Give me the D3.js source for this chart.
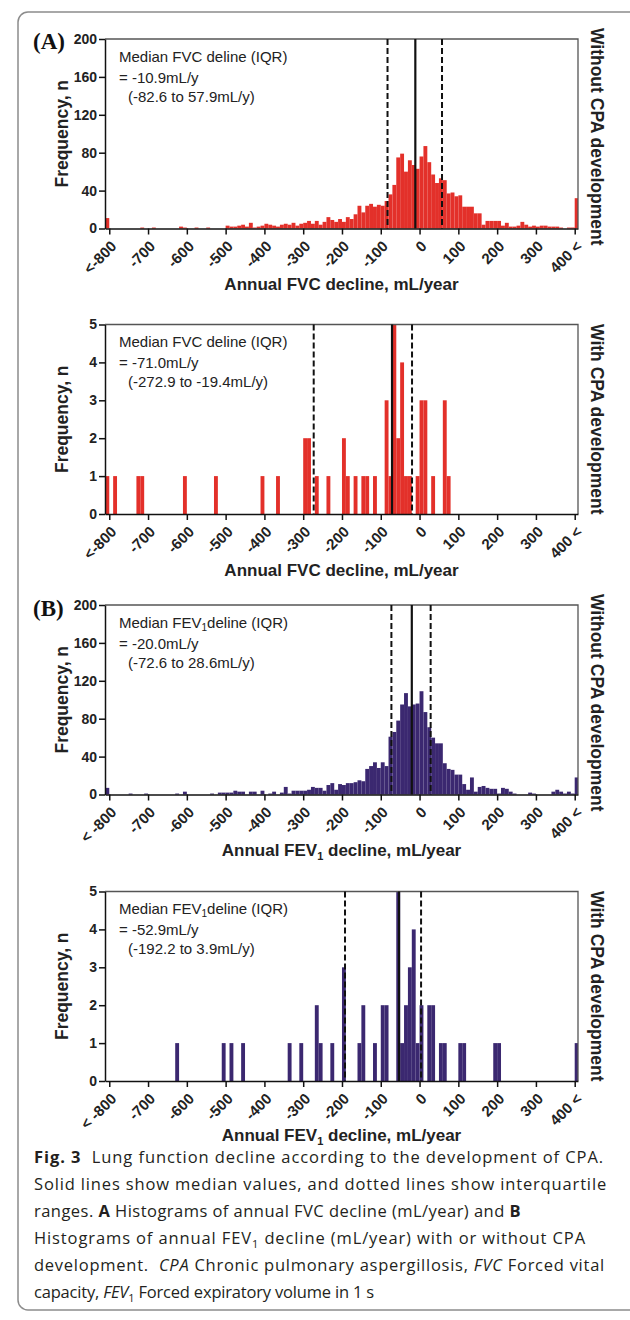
<!DOCTYPE html>
<html><head><meta charset="utf-8">
<script src="https://cdn.jsdelivr.net/npm/d3@7"></script>
<style>body{margin:0;background:#fff}svg{display:block}</style>
</head><body><div id="chart"></div>
<script>
// ---------- DATA ----------
// histogram bins: 10 mL/year wide, left edges -800 ... 390
const binStarts = d3.range(-800, 400, 10);

// (A) FVC decline, without CPA development
const fvcWithout = [
  0,0,0,0,0,0,0,0,1,0,
  0,1,0,0,0,0,0,0,2,1,
  0,0,1,0,0,1,0,0,0,0,
  3,2,2,3,4,2,6,1,2,3,
  5,4,3,2,4,5,4,6,3,5,
  6,8,5,8,4,7,12,9,7,10,
  7,12,10,15,24,17,24,26,23,25,
  24,29,36,46,75,79,60,72,67,63,
  76,87,70,57,48,53,51,37,38,34,
  35,23,23,23,16,16,4,8,8,8,
  8,3,6,2,2,3,7,4,2,3,
  2,3,3,2,2,2,1,0,1,1
];
// (A) FVC decline, with CPA development
const fvcWith = [
  0,1,0,0,0,0,0,1,1,0,
  0,0,0,0,0,0,0,0,0,1,
  0,0,0,0,0,0,0,1,0,0,
  0,0,0,0,0,0,0,0,0,1,
  0,0,0,1,0,0,0,0,0,0,
  2,2,0,1,0,0,1,0,0,0,
  2,1,0,1,0,1,1,0,1,0,
  0,3,1,5,2,4,1,1,0,1,
  3,3,0,1,0,0,3,1,0,0,
  0,0,0,0,0,0,0,0,0,0,
  0,0,0,0,0,0,0,0,0,0,
  0,0,0,0,0,0,0,0,0,0
];
// (B) FEV1 decline, without CPA development
const fev1Without = [
  0,0,0,0,0,1,0,0,0,1,
  0,0,0,0,0,0,0,1,0,3,
  0,0,0,0,0,0,1,0,2,2,
  2,2,4,3,3,0,3,3,0,4,
  0,1,3,0,2,8,1,4,4,4,
  4,5,8,7,7,4,10,12,5,11,
  10,12,12,13,15,14,27,30,34,28,
  34,30,61,66,78,95,107,93,95,96,
  109,87,71,60,54,54,33,27,26,21,
  21,11,5,18,3,8,9,7,6,6,
  1,7,6,3,1,0,0,0,2,1,
  0,0,0,0,3,5,3,1,3,1
];
// (B) FEV1 decline, with CPA development
const fev1With = [
  0,0,0,0,0,0,0,0,0,0,
  0,0,0,0,0,0,0,1,0,0,
  0,0,0,0,0,0,0,0,0,1,
  0,1,0,0,1,0,0,0,0,0,
  0,0,0,0,0,0,1,0,0,1,
  0,0,0,2,1,0,0,1,0,0,
  3,0,0,0,1,2,0,0,1,0,
  2,2,0,0,5,1,2,3,4,1,
  2,0,2,2,0,1,1,0,0,0,
  1,1,0,0,0,0,0,0,0,1,
  1,0,0,0,0,0,0,0,0,0,
  0,0,0,0,0,0,0,0,0,0
];
// counts below -800 and above 400 (panel order: FVC w/o, FVC with, FEV1 w/o, FEV1 with)
const underflowCounts = [11, 1, 7, 0];
const overflowCounts  = [32, 0, 18, 1];

const medians = [-10.9, -71.0, -20.0, -52.9];
const q1s     = [-82.6, -272.9, -72.6, -192.2];
const q3s     = [57.9, -19.4, 28.6, 3.9];

const xTickValues = [-800,-700,-600,-500,-400,-300,-200,-100,0,100,200,300,400];
const xTickLabelsA = ["<-800","-700","-600","-500","-400","-300","-200","-100","0","100","200","300","400 <"];
const xTickLabelsB = ["< -800","-700","-600","-500","-400","-300","-200","-100","0","100","200","300","400 <"];
const yTicksWithout = [0,40,80,120,160,200];
const yTicksWith    = [0,1,2,3,4,5];
const groupLabels = ["Without CPA development","With CPA development","Without CPA development","With CPA development"];

// ---------- DRAW ----------
const W = 630, H = 1320;
const svg = d3.select("#chart").append("svg").attr("width", W).attr("height", H);
const SANS = "'Liberation Sans', Arial, sans-serif";

svg.append("rect").attr("x",18).attr("y",12).attr("width",720).attr("height",1298)
  .attr("rx",10).attr("fill","none").attr("stroke","#8c8c8c").attr("stroke-width",1.5);

const plotLeft = 105, plotRight = 578, plotH = 189.5;
const x = d3.scaleLinear().domain([-811, 408.5]).range([plotLeft, plotRight]);

const panels = [
  {counts: fvcWithout, yMax:200, yTicks:yTicksWithout, color:"#e3302a", top:39, measure:"FVC", labels:xTickLabelsA},
  {counts: fvcWith, yMax:5, yTicks:yTicksWith, color:"#e3302a", top:324.5, measure:"FVC", labels:xTickLabelsA},
  {counts: fev1Without, yMax:200, yTicks:yTicksWithout, color:"#3b2870", top:605, measure:"FEV", labels:xTickLabelsB},
  {counts: fev1With, yMax:5, yTicks:yTicksWith, color:"#3b2870", top:891.5, measure:"FEV", labels:xTickLabelsB}
];

panels.forEach((p, k) => {
  const bottom = p.top + plotH;
  const y = d3.scaleLinear().domain([0, p.yMax]).range([bottom, p.top]);
  const g = svg.append("g");

  // bars
  const bars = binStarts.map((b,i) => ({x0:b, x1:b+10, n:p.counts[i]}));
  bars.push({x0:-811, x1:-800, n:underflowCounts[k]});
  bars.push({x0:400, x1:408.5, n:overflowCounts[k]});
  g.selectAll("rect.bar").data(bars.filter(d => d.n > 0)).join("rect")
    .attr("class","bar")
    .attr("x", d => x(d.x0)).attr("width", d => x(d.x1) - x(d.x0))
    .attr("y", d => y(d.n)).attr("height", d => y(0) - y(d.n))
    .attr("fill", p.color);

  // frame (top/right)
  g.append("path").attr("d", `M${plotLeft},${p.top}H${plotRight}V${bottom}`)
    .attr("fill","none").attr("stroke","#555").attr("stroke-width",1.3);

  // median & IQR lines
  [q1s[k], q3s[k]].forEach(v => {
    g.append("line").attr("x1", x(v)).attr("x2", x(v)).attr("y1", p.top).attr("y2", bottom)
      .attr("stroke","#111").attr("stroke-width",2).attr("stroke-dasharray","6,3");
  });
  g.append("line").attr("x1", x(medians[k])).attr("x2", x(medians[k])).attr("y1", p.top).attr("y2", bottom)
    .attr("stroke","#111").attr("stroke-width",2.2);

  // y axis
  const ya = g.append("g").attr("transform", `translate(${plotLeft},0)`)
    .call(d3.axisLeft(y).tickValues(p.yTicks).tickFormat(d3.format("d"))
      .tickSize(6).tickSizeOuter(0).tickPadding(2));
  ya.select(".domain").attr("stroke","#111").attr("stroke-width",1.5);
  ya.selectAll(".tick line").attr("stroke","#111").attr("stroke-width",1.5);
  ya.selectAll(".tick text").attr("font-family", SANS).attr("font-size", 14)
    .attr("font-weight","bold").attr("fill","#222");

  // x axis
  const xa = g.append("g").attr("transform", `translate(0,${bottom})`)
    .call(d3.axisBottom(x).tickValues(xTickValues).tickSize(6).tickSizeOuter(0)
      .tickFormat((d,i) => p.labels[i]));
  xa.select(".domain").attr("stroke","#111").attr("stroke-width",1.5);
  xa.selectAll(".tick line").attr("stroke","#111").attr("stroke-width",1.5);
  xa.selectAll(".tick text").attr("font-family", SANS).attr("font-size", 15)
    .attr("font-weight","bold").attr("fill","#222")
    .attr("x",0).attr("y",0).attr("dy","0.35em")
    .attr("text-anchor","end").attr("transform","translate(4,15) rotate(-45)");

  // y title
  g.append("text").attr("transform", `translate(68,${p.top + plotH/2}) rotate(-90)`)
    .attr("text-anchor","middle").attr("font-family", SANS).attr("font-size",17.5)
    .attr("font-weight","bold").attr("fill","#222").text("Frequency, n");

  // x title
  const xt = g.append("text").attr("x", (plotLeft+plotRight)/2).attr("y", bottom + (k === 3 ? 60 : 61.5))
    .attr("text-anchor","middle").attr("font-family", SANS).attr("font-size",17)
    .attr("font-weight","bold").attr("fill","#222");
  if (p.measure === "FVC") {
    xt.text("Annual FVC decline, mL/year");
  } else {
    xt.append("tspan").text("Annual FEV");
    xt.append("tspan").attr("font-size",11).attr("dy",4).text("1");
    xt.append("tspan").attr("dy",-4).text(" decline, mL/year");
  }

  // right group label
  const cy = p.top + plotH/2 + (k % 2 === 0 ? 3 : 0);
  g.append("text").attr("transform", `translate(591,${cy}) rotate(90)`)
    .attr("text-anchor","middle").attr("font-family", SANS).attr("font-size",17.5)
    .attr("font-weight","bold").attr("fill","#222").text(groupLabels[k]);

  // annotation
  const ann = g.append("g").attr("font-family", SANS).attr("font-size",15).attr("fill","#222");
  const l1 = ann.append("text").attr("x",119).attr("y",p.top + 22.5);
  if (p.measure === "FVC") {
    l1.text("Median FVC deline (IQR)");
  } else {
    l1.append("tspan").text("Median FEV");
    l1.append("tspan").attr("font-size",10).attr("dy",3).text("1");
    l1.append("tspan").attr("dy",-3).text("deline (IQR)");
  }
  ann.append("text").attr("x",119).attr("y",p.top + 43.5)
    .text(`= ${medians[k].toFixed(1)}mL/y`);
  ann.append("text").attr("x",128).attr("y",p.top + 62.5)
    .text(`(${q1s[k].toFixed(1)} to ${q3s[k].toFixed(1)}mL/y)`);
});

// panel letters
[["(A)", 49], ["(B)", 616]].forEach(([t, yy]) => {
  svg.append("text").attr("x",33).attr("y",yy).attr("font-family","'Liberation Serif', 'Times New Roman', serif")
    .attr("font-size",23).attr("font-weight","bold").attr("fill","#111").text(t);
});

// caption
const CAP = "'Open Sans', 'Noto Sans', sans-serif";
const capLines = [
  {y:1163, w:570, parts:[["Fig. 3","b"],["  Lung function decline according to the development of CPA.",""]]},
  {y:1190, w:573, parts:[["Solid lines show median values, and dotted lines show interquartile",""]]},
  {y:1217, w:487, parts:[["ranges. ",""],["A","b"],[" Histograms of annual FVC decline (mL/year) and ",""],["B","b"]]},
  {y:1244, w:552, parts:[["Histograms of annual FEV",""],["1","sub"],[" decline (mL/year) with or without CPA",""]]},
  {y:1271, w:571, parts:[["development.  ",""],["CPA","i"],[" Chronic pulmonary aspergillosis, ",""],["FVC","i"],[" Forced vital",""]]},
  {y:1298, w:340, parts:[["capacity, ",""],["FEV","i"],["1","sub"],[" Forced expiratory volume in 1 s",""]]}
];
capLines.forEach(L => {
  const t = svg.append("text").attr("x",34).attr("y",L.y).attr("font-family",CAP)
    .attr("font-size",16.5).attr("fill","#231f20")
    .style("white-space","pre");
  let shifted = false;
  L.parts.forEach(([s, st]) => {
    const ts = t.append("tspan").text(s);
    if (st === "b") ts.attr("font-weight","bold");
    if (st === "i") ts.attr("font-style","italic");
    if (st === "sub") { ts.attr("font-size",11).attr("dy",4); shifted = true; }
    else if (shifted) { ts.attr("dy",-4); shifted = false; }
  });
  // fit width by adjusting letter spacing only
  const natural = t.node().getComputedTextLength();
  const nChars = L.parts.reduce((a, [s]) => a + s.length, 0);
  const ls = (L.w - natural) / nChars;
  t.attr("letter-spacing", ls.toFixed(3));
});
</script>
</body></html>
